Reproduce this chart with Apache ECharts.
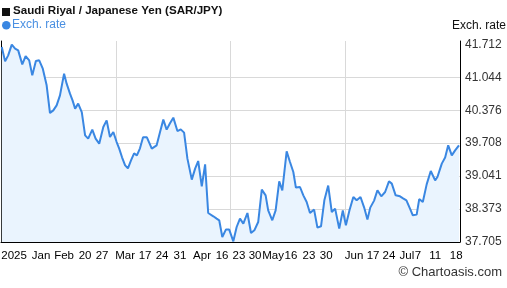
<!DOCTYPE html>
<html><head><meta charset="utf-8">
<script src="https://cdn.jsdelivr.net/npm/echarts@6/dist/echarts.min.js"></script>
<style>html,body{margin:0;padding:0;background:#fff}#c{width:507px;height:288px}</style>
</head><body><div id="c"></div>
<script>
// days since 2025-01-20
const dayOffsets = [0.3,1.6,2.8,4.2,5.5,6.7,8.3,9.6,11.0,12.2,13.6,14.9,16.3,17.8,19.1,20.4,21.7,23.0,24.6,25.6,26.9,27.9,28.9,30.1,31.5,32.8,34.0,35.6,36.9,38.3,39.9,41.2,42.5,43.8,45.1,46.1,47.2,48.4,49.5,50.7,51.9,53.0,54.2,55.4,56.9,58.8,60.7,62.0,63.3,64.6,65.9,67.2,68.8,70.1,71.4,72.7,74.4,75.7,76.9,78.3,79.6,80.8,82.8,84.1,85.1,86.3,87.7,89.0,90.6,91.9,93.2,94.5,96.1,97.5,98.8,100.3,101.7,103.2,104.2,105.8,107.1,108.5,109.7,111.4,112.7,114.0,115.0,116.6,117.9,119.2,120.5,122.1,123.4,124.8,126.1,127.6,129.0,130.3,131.9,133.3,134.5,135.9,137.4,138.7,140.2,141.6,142.9,144.0,145.5,146.8,148.3,149.8,151.3,152.4,153.9,155.6,156.8,158.1,159.5,160.6,162.1,163.1,164.5,166.0,167.6,169.3,170.2,171.9,173.2,174.4,175.8,177.1,178.6];
const rates = [41.657,41.367,41.489,41.706,41.625,41.590,41.306,41.475,41.388,41.083,41.373,41.388,41.219,40.881,40.319,40.374,40.475,40.678,41.118,40.915,40.713,40.577,40.409,40.510,40.340,39.867,39.801,39.983,39.801,39.699,40.036,40.171,39.833,39.934,39.732,39.598,39.422,39.259,39.199,39.361,39.503,39.462,39.604,39.827,39.827,39.598,39.665,39.928,40.186,39.983,40.111,40.226,39.955,39.989,39.922,39.395,38.970,39.193,39.347,38.834,39.280,38.293,38.226,38.179,38.145,37.806,37.956,37.956,37.719,38.009,38.179,38.078,38.293,37.887,37.942,38.110,38.767,38.651,38.347,38.145,38.347,38.935,38.753,39.543,39.326,39.124,38.808,38.820,38.651,38.516,38.293,38.362,37.997,38.023,38.550,38.848,38.313,38.382,37.977,38.347,38.043,38.347,38.617,38.550,38.617,38.408,38.159,38.402,38.544,38.753,38.631,38.718,38.935,38.889,38.651,38.631,38.591,38.550,38.382,38.246,38.260,38.576,38.516,38.874,39.144,38.955,39.022,39.294,39.416,39.665,39.462,39.563,39.665];
const xTickPos = [5.1,15.6,24.6,32.8,39.4,48.4,56.2,62.8,69.8,78.4,86.2,92.8,99.1,106.1,113.1,120.1,126.8,137.7,145.1,151.3,158.3,162.6,169.3,177.5];
const xTickLabels = ['2025','Jan','Feb','20','27','Mar','17','24','31','Apr','16','23','30','May','16','23','30','Jun','17','24','Jul','7','11','18'];
const yTicks = [37.705, 38.373, 39.041, 39.708, 40.376, 41.044, 41.712];
const dayRange = [0, 179];
const yTop = 41.78;
const seriesName = 'Exch. rate';
const titleText = 'Saudi Riyal / Japanese Yen (SAR/JPY)';
const creditText = '\u00A9 Chartoasis.com';

const FONT = '"Liberation Sans", Arial, sans-serif';
const BLUE = '#3a87e2';
const yInterval = (yTicks[yTicks.length - 1] - yTicks[0]) / (yTicks.length - 1);
function yLabel(v) {
  let best = yTicks[0];
  yTicks.forEach(t => { if (Math.abs(t - v) < Math.abs(best - v)) best = t; });
  return Math.abs(best - v) < yInterval / 4 ? best.toFixed(3) : '';
}

const chart = echarts.init(document.getElementById('c'), null, {renderer: 'canvas'});
chart.setOption({
  animation: false,
  grid: {left: 1, right: 47, top: 41, bottom: 46, containLabel: false, outerBoundsMode: 'none'},
  xAxis: [{
    type: 'value', min: dayRange[0], max: dayRange[1], position: 'bottom',
    axisLine: {show: true, onZero: false, lineStyle: {color: '#000', width: 1}},
    axisTick: {show: false},
    splitLine: {show: false},
    axisLabel: {
      customValues: xTickPos,
      formatter: v => { const i = xTickPos.indexOf(v); return i >= 0 ? xTickLabels[i] : ''; },
      color: '#000', fontSize: 11.5, fontFamily: FONT, margin: 8, hideOverlap: false
    }
  }, {
    type: 'value', min: dayRange[0], max: dayRange[1], interval: (dayRange[1] - dayRange[0]) / 4,
    position: 'top',
    axisLine: {show: false}, axisTick: {show: false}, axisLabel: {show: false},
    splitLine: {show: true, lineStyle: {color: '#d9d9d9', width: 1}}
  }],
  yAxis: [{
    type: 'value', position: 'right', min: yTicks[0], max: yTop, interval: yInterval,
    axisLine: {show: true, onZero: false, lineStyle: {color: '#000', width: 1}},
    axisTick: {show: false},
    axisLabel: {color: '#333', fontSize: 12, fontFamily: FONT, margin: 5, showMaxLabel: false,
      formatter: yLabel},
    splitLine: {show: true, lineStyle: {color: ['#d9d9d9','#d9d9d9','#d9d9d9','#d9d9d9','#d9d9d9','#d9d9d9','rgba(0,0,0,0)','rgba(0,0,0,0)'], width: 1}}
  }, {
    type: 'value', position: 'left', min: yTicks[0], max: yTop,
    axisLine: {show: true, onZero: false, lineStyle: {color: '#000', width: 1}},
    axisTick: {show: false}, axisLabel: {show: false}, splitLine: {show: false}
  }],
  series: [{
    name: seriesName, type: 'line', xAxisIndex: 0, yAxisIndex: 0,
    data: dayOffsets.map((d, i) => [d, rates[i]]),
    showSymbol: false, symbol: 'none',
    lineStyle: {color: BLUE, width: 2},
    areaStyle: {color: '#eaf4fe', opacity: 1, origin: 'start'},
    clip: true
  }],
  graphic: [
    {type: 'rect', left: 2, top: 8, shape: {width: 8, height: 8}, style: {fill: '#111'}},
    {type: 'text', left: 13, top: 5, style: {text: titleText, fill: '#111', font: 'bold 11.6px ' + FONT}},
    {type: 'circle', left: 2, top: 21, shape: {r: 4.3}, style: {fill: BLUE}},
    {type: 'text', left: 12, top: 19, style: {text: seriesName, fill: '#4a90e2', font: '12px ' + FONT}},
    {type: 'text', left: 452, top: 20, style: {text: seriesName, fill: '#111', font: '12px ' + FONT}},
    {type: 'text', right: 5, top: 266, style: {text: creditText, fill: '#333', font: '13px ' + FONT}}
  ]
});
</script>
</body></html>
